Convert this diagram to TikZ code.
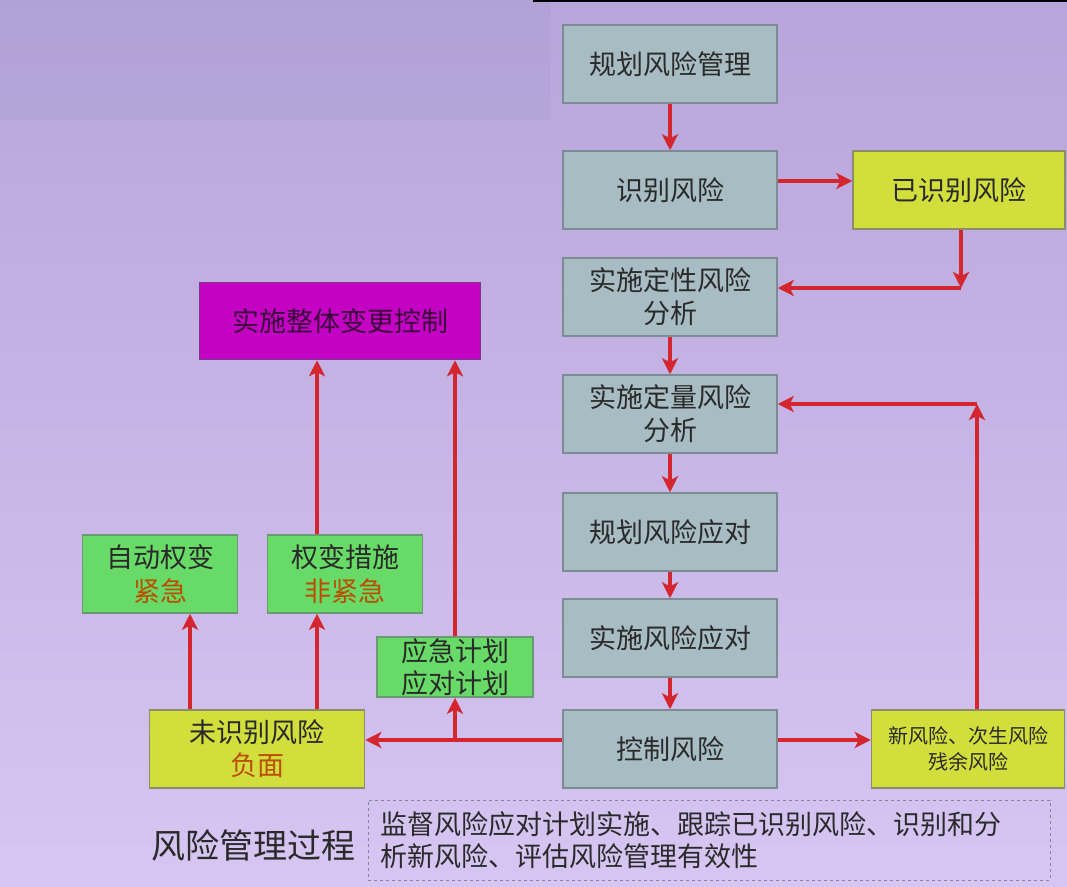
\documentclass[tikz,border=0pt]{standalone}
\usepackage{fontspec}
\setmainfont{Noto Sans CJK SC}
\usetikzlibrary{arrows.meta}

\definecolor{bgtop}{HTML}{B7A5DB}
\definecolor{bgmid}{HTML}{DCC7F4}
\definecolor{bgbot}{HTML}{D7C5F2}
\definecolor{bandcol}{HTML}{AE9ED2}
\definecolor{greyfill}{HTML}{A8BCC3}
\definecolor{greyline}{HTML}{7C8C92}
\definecolor{yellowfill}{HTML}{D2DE3C}
\definecolor{yellowline}{HTML}{8A8C6A}
\definecolor{greenfill}{HTML}{68DA68}
\definecolor{greenline}{HTML}{6A9A72}
\definecolor{magfill}{HTML}{C402C4}
\definecolor{magline}{HTML}{7A3A8A}
\definecolor{arrowred}{HTML}{D3262E}
\definecolor{boxtext}{HTML}{2A2A2A}
\definecolor{urgent}{HTML}{BC4E00}
\definecolor{dashcol}{HTML}{8A8298}

\tikzset{
  box/.style={draw, line width=1.5pt, minimum width=214pt, minimum height=78pt,
    inner sep=0pt, align=center, text=boxtext,
    font=\fontsize{27pt}{33pt}\selectfont},
  greybox/.style={box, fill=greyfill, draw=greyline},
  yellowbox/.style={box, fill=yellowfill, draw=yellowline},
  greenbox/.style={box, fill=greenfill, draw=greenline, minimum width=155pt,
    font=\fontsize{27pt}{34pt}\selectfont},
  arr/.style={draw=arrowred, line width=3.2pt,
    -{Stealth[length=16pt,width=16pt,inset=4pt]}},
}

\begin{document}
\begin{tikzpicture}[x=1pt,y=-1pt]
\useasboundingbox (0,0) rectangle (1067,886);

% backdrop
\shade[top color=bgtop, middle color=bgmid, bottom color=bgbot]
  (0,0) rectangle (1067,886);
\fill[bandcol, opacity=0.45] (0,0) rectangle (550,120);
\fill[black] (533,0) rectangle (1067,2);

% main process column
\node[greybox] (plan)  at (670,64)  {规划风险管理};
\node[greybox] (ident) at (670,190) {识别风险};
\node[greybox] (qual)  at (670,297) {实施定性风险\\分析};
\node[greybox] (quan)  at (670,414) {实施定量风险\\分析};
\node[greybox] (resp)  at (670,532) {规划风险应对};
\node[greybox] (impl)  at (670,638) {实施风险应对};
\node[greybox] (ctrl)  at (670,749) {控制风险};

% side results
\node[yellowbox, minimum width=212pt] (known) at (959,190) {已识别风险};
\node[yellowbox, minimum width=193pt, font=\fontsize{20pt}{26pt}\selectfont]
  (newr) at (968,749) {新风险、次生风险\\残余风险};
\node[yellowbox, minimum width=215pt] (unid) at (257,749)
  {未识别风险\\\textcolor{urgent}{负面}};

% responses to unidentified risks
\node[greenbox] (auto) at (160,574) {自动权变\\\textcolor{urgent}{紧急}};
\node[greenbox] (work) at (345,574) {权变措施\\\textcolor{urgent}{非紧急}};
\node[greenbox, minimum width=156pt, minimum height=60pt,
  font=\fontsize{27pt}{32pt}\selectfont] (cont) at (455,667) {应急计划\\应对计划};
\node[box, fill=magfill, draw=magline, minimum width=281pt, minimum height=77pt,
  text=black!70!magfill] (chg) at (340,321) {实施整体变更控制};

% caption and note
\node[font=\fontsize{34pt}{40pt}\selectfont, text=boxtext] (title) at (253,845)
  {风险管理过程};
\node[draw=dashcol, dashed, line width=1pt, text width=658pt, inner xsep=12pt,
  minimum height=80pt, align=left, text=boxtext,
  font=\fontsize{27pt}{32pt}\selectfont] (note) at (709,840)
  {监督风险应对计划实施、跟踪已识别风险、识别和分\\析新风险、评估风险管理有效性};

% connectors along the column
\draw[arr] (plan.south) -- (ident.north);
\draw[arr] (qual.south) -- (quan.north);
\draw[arr] (quan.south) -- (resp.north);
\draw[arr] (resp.south) -- (impl.north);
\draw[arr] (impl.south) -- (ctrl.north);

% identified risks feed qualitative analysis
\draw[arr] ([yshift=9pt]ident.east) -- ([yshift=9pt]known.west);
\coordinate (k1) at (961,288);
\draw[arr] (known.south -| k1) -- (k1);
\draw[arr] (k1) -- (qual.east |- k1);

% new risks loop back to quantitative analysis
\coordinate (n1) at (977,404);
\draw[arr] (newr.north -| n1) -- (n1);
\draw[arr] (n1) -- (quan.east |- n1);

% control risks outputs
\draw[arr] ([yshift=9pt]ctrl.east) -- ([yshift=9pt]newr.west);
\draw[arr] ([yshift=9pt]ctrl.west) -- ([yshift=9pt]unid.east);
\coordinate (c1) at (455,740);
\draw[arr] (c1) -- (cont.south);
\draw[arr] (cont.north) -- (cont.north |- chg.south);

% unidentified risks to workarounds
\draw[arr] ([xshift=-67pt]unid.north) -- ([xshift=30pt]auto.south);
\draw[arr] ([xshift=60pt]unid.north) -- ([xshift=-28pt]work.south);
\draw[arr] ([xshift=-28pt]work.north) -- ([xshift=-23pt]chg.south);
\end{tikzpicture}
\end{document}
